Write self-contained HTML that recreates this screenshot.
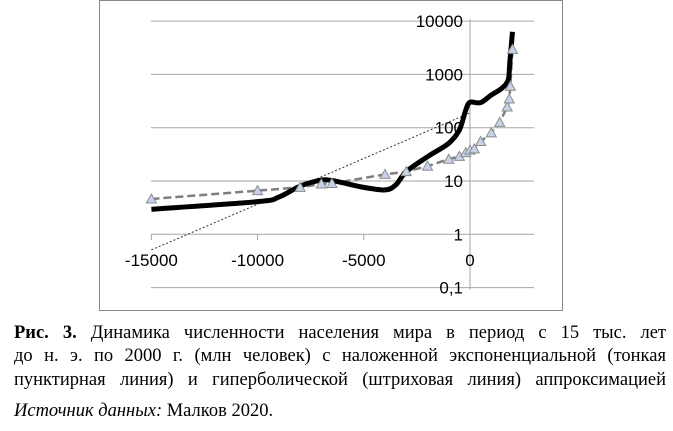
<!DOCTYPE html>
<html><head><meta charset="utf-8"><style>
body{margin:0;width:673px;height:431px;background:#fff;overflow:hidden;position:relative}
.cap{position:absolute;left:14px;width:652px;font-family:"Liberation Serif",serif;font-size:18.5px;color:#000;white-space:nowrap;line-height:22px}
.j{text-align:justify;text-align-last:justify;white-space:normal}
</style></head><body>
<svg id="chart" width="673" height="315" style="position:absolute;left:0;top:0" font-family="Liberation Sans, sans-serif"></svg>
<div class="cap j" style="top:322px"><b>Рис. 3.</b> Динамика численности населения мира в период с 15 тыс. лет</div>
<div class="cap j" style="top:345px">до н. э. по 2000 г. (млн человек) с наложенной экспоненциальной (тонкая</div>
<div class="cap j" style="top:369px">пунктирная линия) и гиперболической (штриховая линия) аппроксимацией</div>
<div class="cap" style="top:400px"><i>Источник данных:</i> Малков 2020.</div>
<script>
const actualYears=[-15000,-10000,-9000,-8000,-7000,-6500,-6000,-5000,-4000,-3500,-3000,-2000,-1000,-500,-200,0,500,1000,1500,1800,1870,2000];
const actualPop=[2.95,4.1,5,8,10.4,10.2,9.3,7.6,6.8,8.4,15,28.6,51,91,214,300,295,410,550,790,1600,6300];
const hypYears=[-15000,-10000,-8000,-7000,-6500,-4000,-3000,-2000,-1000,-500,-200,0,200,500,1000,1400,1750,1850,1900,2000];
const hypPop=[4.6,6.6,7.6,8.8,9,13.3,15,19,25.6,29,34,38,40,55,80,126,245,345,600,2950];
const expYears=[-15000,0];
const expPop=[0.51,190];
const yTicks=[10000,1000,100,10,1,0.1];
const yTickLabels=["10000","1000","100","10","1","0,1"];
const xTicks=[-15000,-10000,-5000,0];
const xTickLabels=["-15000","-10000","-5000","0"];
const NS="http://www.w3.org/2000/svg";
const svg=document.getElementById('chart');
const X=v=>470+(v/5000)*106.2;
const Y=v=>234.3-Math.log10(v)*53.3;
function mk(t,a){const e=document.createElementNS(NS,t);for(const k in a)e.setAttribute(k,a[k]);svg.appendChild(e);return e;}
const frame=mk('rect',{x:99.5,y:0.5,width:463,height:310,fill:'#fff',stroke:'#888'});


yTicks.forEach((t,i)=>{
 const g=mk('line',{x1:151,x2:534,y1:Y(t),y2:Y(t),stroke:'#a6a6a6','stroke-width':1});
 
 
 const l=mk('text',{x:463,y:Y(t)+6,'text-anchor':'end','font-size':17,fill:'#000'});
 l.textContent=yTickLabels[i];
 
 
});
const ya=mk('line',{x1:X(0),x2:X(0),y1:Y(10000)-2,y2:Y(0.1)+2,stroke:'#a6a6a6'});


xTicks.forEach((t,i)=>{
 const k=mk('line',{x1:X(t),x2:X(t),y1:Y(1),y2:Y(1)+6,stroke:'#a6a6a6'});
 
 
 const l=mk('text',{x:X(t),y:266,'text-anchor':'middle','font-size':17,fill:'#000'});
 l.textContent=xTickLabels[i];
 
 
});
const ex=mk('line',{x1:X(expYears[0]),y1:Y(expPop[0]),x2:X(expYears[1]),y2:Y(expPop[1]),stroke:'#333','stroke-width':1,'stroke-dasharray':'2,2'});


const hp=mk('polyline',{points:hypYears.map((y,i)=>X(y)+','+Y(hypPop[i])).join(' '),fill:'none',stroke:'#7f7f7f','stroke-width':2.5,'stroke-dasharray':'8,4'});


const pts=actualYears.map((y,i)=>[X(y),Y(actualPop[i])]);
let d='M'+pts[0][0]+','+pts[0][1];
for(let i=0;i<pts.length-1;i++){
 const p0=pts[Math.max(0,i-1)],p1=pts[i],p2=pts[i+1],p3=pts[Math.min(pts.length-1,i+2)];
 const c1=[p1[0]+(p2[0]-p0[0])/6,p1[1]+(p2[1]-p0[1])/6],c2=[p2[0]-(p3[0]-p1[0])/6,p2[1]-(p3[1]-p1[1])/6];
 d+=' C'+c1+' '+c2+' '+p2;
}
const al=mk('path',{d:d,fill:'none',stroke:'#000','stroke-width':5,'stroke-linejoin':'round'});


hypYears.forEach((y,i)=>{
 const cx=X(y),cy=Y(hypPop[i]);
 const t=mk('polygon',{points:`${cx},${cy-5} ${cx-5},${cy+4} ${cx+5},${cy+4}`,fill:'#c5d3ea',stroke:'#8c8c8c','stroke-width':1});
 
 
});
</script>
</body></html>
